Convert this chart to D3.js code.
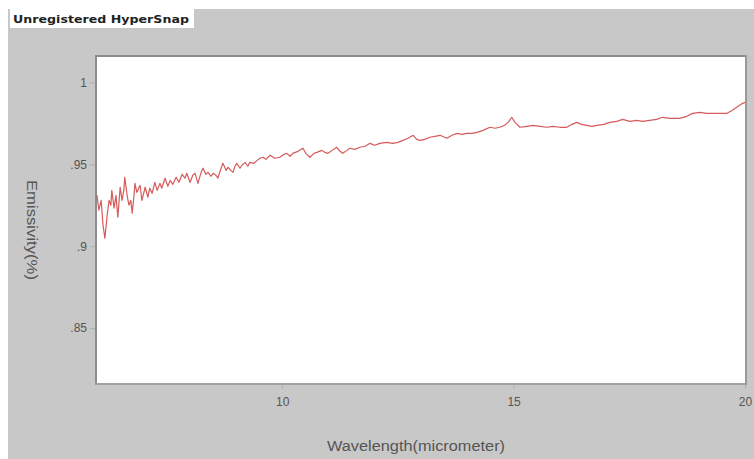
<!DOCTYPE html>
<html><head><meta charset="utf-8">
<script src="https://cdn.jsdelivr.net/npm/d3@7"></script>
<style>body{margin:0;background:#fff}svg{display:block}</style>
</head><body>
<svg id="c" width="754" height="459"></svg>
<script>
const wavelength = [
6.00,6.04,6.09,6.13,6.17,6.22,6.26,6.30,6.32,6.37,
6.41,6.45,6.50,6.54,6.58,6.60,6.65,6.69,6.73,6.76,
6.80,6.82,6.86,6.93,6.97,7.04,7.10,7.14,7.19,7.25,
7.30,7.36,7.40,7.47,7.53,7.58,7.64,7.71,7.77,7.84,
7.90,7.94,8.01,8.07,8.12,8.18,8.25,8.29,8.35,8.40,
8.46,8.51,8.57,8.61,8.68,8.72,8.79,8.83,8.89,8.94,
8.98,9.02,9.09,9.13,9.20,9.26,9.30,9.39,9.46,9.52,
9.59,9.65,9.74,9.84,9.95,10.04,10.10,10.17,10.23,10.34,
10.45,10.51,10.60,10.69,10.75,10.86,10.92,10.99,11.08,11.18,
11.25,11.31,11.40,11.46,11.57,11.68,11.79,11.90,12.00,12.11,
12.26,12.39,12.50,12.61,12.72,12.83,12.91,12.98,13.08,13.19,
13.30,13.41,13.56,13.67,13.78,13.88,13.99,14.10,14.21,14.34,
14.49,14.60,14.70,14.81,14.90,14.96,15.03,15.14,15.29,15.42,
15.57,15.72,15.85,16.00,16.15,16.26,16.37,16.47,16.58,16.69,
16.80,16.95,17.08,17.23,17.36,17.51,17.66,17.79,17.94,18.09,
18.22,18.38,18.59,18.74,18.87,19.02,19.17,19.31,19.46,19.61,
19.72,19.82,19.95,20.00];
const emissivity = [
0.9311,0.9220,0.9280,0.9128,0.9049,0.9189,0.9280,0.9250,0.9341,0.9232,
0.9311,0.9177,0.9360,0.9280,0.9341,0.9421,0.9311,0.9250,0.9280,0.9201,
0.9311,0.9384,0.9329,0.9372,0.9280,0.9360,0.9299,0.9354,0.9323,0.9390,
0.9341,0.9384,0.9354,0.9415,0.9366,0.9402,0.9378,0.9421,0.9390,0.9439,
0.9415,0.9445,0.9390,0.9433,0.9445,0.9384,0.9451,0.9476,0.9439,0.9451,
0.9427,0.9445,0.9433,0.9415,0.9476,0.9506,0.9463,0.9482,0.9463,0.9451,
0.9488,0.9506,0.9476,0.9494,0.9512,0.9488,0.9512,0.9506,0.9524,0.9537,
0.9543,0.9530,0.9555,0.9537,0.9543,0.9561,0.9567,0.9549,0.9567,0.9579,
0.9598,0.9567,0.9543,0.9567,0.9573,0.9585,0.9573,0.9567,0.9585,0.9604,
0.9579,0.9567,0.9585,0.9598,0.9591,0.9604,0.9610,0.9628,0.9616,0.9628,
0.9634,0.9628,0.9634,0.9646,0.9659,0.9677,0.9652,0.9646,0.9652,0.9665,
0.9671,0.9677,0.9659,0.9677,0.9689,0.9683,0.9689,0.9689,0.9695,0.9707,
0.9726,0.9720,0.9726,0.9738,0.9762,0.9787,0.9756,0.9726,0.9732,0.9738,
0.9732,0.9726,0.9732,0.9726,0.9726,0.9744,0.9756,0.9744,0.9738,0.9732,
0.9738,0.9744,0.9756,0.9762,0.9774,0.9762,0.9768,0.9762,0.9768,0.9774,
0.9787,0.9780,0.9780,0.9793,0.9811,0.9817,0.9811,0.9811,0.9811,0.9811,
0.9829,0.9848,0.9872,0.9878];
const xTicks = [10, 15, 20];
const yTicks = [0.85, 0.9, 0.95, 1];
const yTickLabels = [".85", ".9", ".95", "1"];
const titleText = "Unregistered HyperSnap";
const xLabel = "Wavelength(micrometer)";
const yLabel = "Emissivity(%)";

const svg = d3.select("#c");
const L = 97, R = 745, T = 57, B = 383;
const x = d3.scaleLinear().domain([6, 20]).range([L, R]);
const y = d3.scaleLinear().domain([0.8165, 1.0155]).range([B, T]);

// backgrounds
svg.append("rect").attr("x",8).attr("y",9).attr("width",746).attr("height",450).attr("fill","#c8c8c8");
svg.append("rect").attr("x",10).attr("y",9).attr("width",184).attr("height",19).attr("fill","#fff");
svg.append("text").attr("x",13).attr("y",23).attr("font-family","DejaVu Sans, sans-serif")
  .attr("font-weight","bold").attr("font-size",11).attr("fill","#222")
  .attr("textLength",176).attr("lengthAdjust","spacingAndGlyphs").text(titleText);

// plot area
svg.append("rect").attr("x",L).attr("y",T).attr("width",R-L).attr("height",B-T).attr("fill","#fff");

// axes
const xAxis = d3.axisBottom(x).tickValues(xTicks).tickSize(6).tickPadding(6).tickFormat(d3.format("d"));
const gx = svg.append("g").attr("transform",`translate(0,${B})`).call(xAxis);
const yAxis = d3.axisLeft(y).tickValues(yTicks).tickSize(7).tickPadding(3)
  .tickFormat((d,i)=>yTickLabels[yTicks.indexOf(d)]);
const gy = svg.append("g").attr("transform",`translate(${L},0)`).call(yAxis);
[gx, gy].forEach(g => {
  g.select(".domain").remove();
  g.selectAll(".tick line").attr("stroke","#b0b0b0");
  g.selectAll(".tick text").attr("fill","#555").attr("font-family","Liberation Sans, Arial, sans-serif").attr("font-size",12);
});
gx.selectAll(".tick text").attr("dy","0.9em");

// frame
svg.append("line").attr("x1",L-1).attr("x2",L-1).attr("y1",T-1).attr("y2",B+1).attr("stroke","#8c8c8c").attr("stroke-width",2);
svg.append("line").attr("x1",L-2).attr("x2",R+1).attr("y1",T-1).attr("y2",T-1).attr("stroke","#8c8c8c").attr("stroke-width",2);
svg.append("line").attr("x1",L-2).attr("x2",R+1).attr("y1",B+1).attr("y2",B+1).attr("stroke","#a0a0a0").attr("stroke-width",2);
svg.append("line").attr("x1",R+1).attr("x2",R+1).attr("y1",T-2).attr("y2",B+2).attr("stroke","#999").attr("stroke-width",2);

// line
const data = wavelength.map((w,i)=>({w, e: emissivity[i]}));
svg.append("path").datum(data)
  .attr("fill","none").attr("stroke","#d65a5a").attr("stroke-width",1.2).attr("stroke-linejoin","round")
  .attr("d", d3.line().x(d=>x(d.w)).y(d=>y(d.e)));

// labels
svg.append("text").attr("x",416).attr("y",451).attr("text-anchor","middle")
  .attr("font-family","Liberation Sans, Arial, sans-serif").attr("font-size",14).attr("fill","#555")
  .attr("textLength",178).attr("lengthAdjust","spacingAndGlyphs").text(xLabel);
svg.append("text").attr("transform","translate(27,230) rotate(90)").attr("text-anchor","middle")
  .attr("font-family","Liberation Sans, Arial, sans-serif").attr("font-size",14).attr("fill","#555")
  .attr("textLength",100).attr("lengthAdjust","spacingAndGlyphs").text(yLabel);
</script>
</body></html>
